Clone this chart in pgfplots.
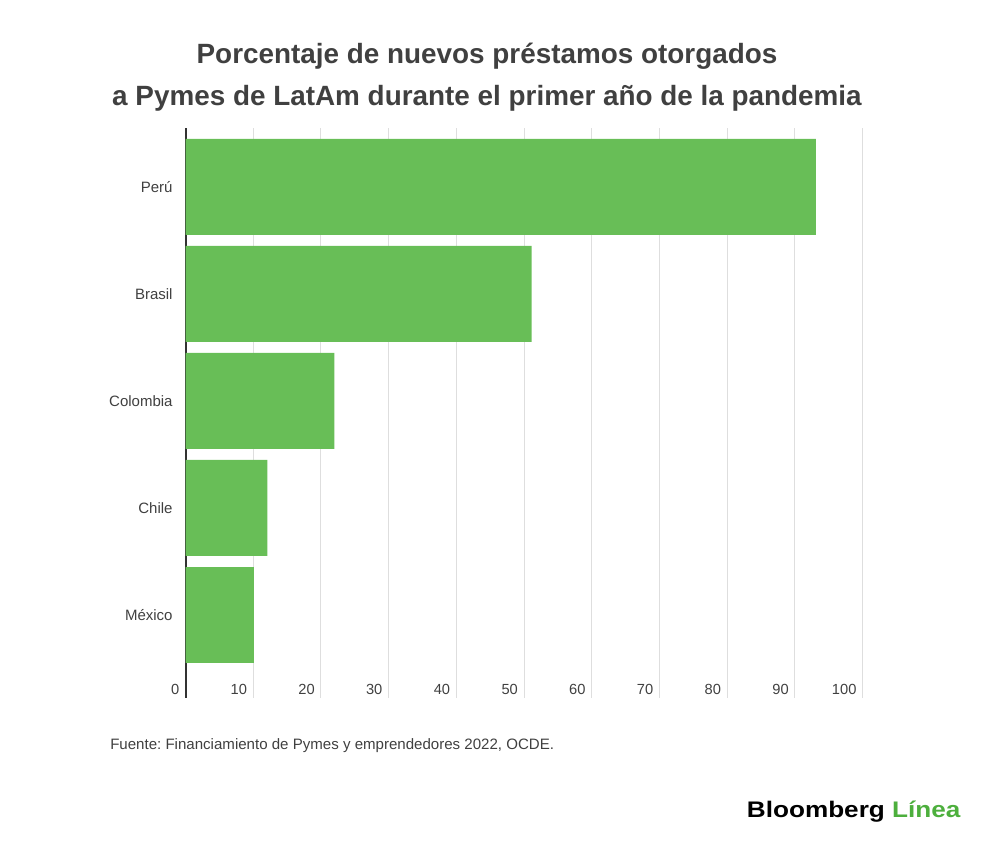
\documentclass[border=0pt]{standalone}
\usepackage{fontspec}
\setmainfont{Liberation Sans}
\usepackage{pgfplots}
\pgfplotsset{compat=1.18}
\definecolor{bargreen}{RGB}{104,190,87}
\definecolor{txt}{RGB}{64,64,64}
\definecolor{gridc}{RGB}{222,222,222}
\definecolor{axisc}{RGB}{50,50,50}
\definecolor{logogreen}{RGB}{77,175,61}
\frenchspacing
\begin{document}
\begin{tikzpicture}
\path[use as bounding box] (0,0) rectangle (750pt,632.25pt);
\node[anchor=base, inner sep=0pt, text=txt, font=\fontsize{20.9pt}{25pt}\selectfont\bfseries] at (365.25pt,584.5pt) {Porcentaje de nuevos préstamos otorgados};
\node[anchor=base, inner sep=0pt, text=txt, font=\fontsize{20.9pt}{25pt}\selectfont\bfseries] at (365.25pt,552.75pt) {a Pymes de LatAm durante el primer año de la pandemia};
\begin{axis}[
 at={(139.125pt,108.75pt)}, anchor=south west,
 scale only axis, width=507.9pt, height=427.3pt,
 xmin=0, xmax=100, ymin=-0.7757, ymax=4.5486,
 xbar, bar width=0.897,
 axis line style={draw=none},
 xtick={10,20,...,100},
 extra x ticks={0},
 extra x tick style={grid=major, grid style={draw=axisc, line width=1.5pt}},
 xmajorgrids, grid style={draw=gridc, line width=0.75pt},
 major tick length=0pt,
 ytick={0,1,2,3,4},
 yticklabels={México,Chile,Colombia,Brasil,Perú},
 yticklabel style={anchor=east, inner sep=0pt, xshift=-9.5pt, font=\fontsize{11.25pt}{13pt}\selectfont, text=txt},
 xticklabel style={anchor=east, inner sep=0pt, xshift=-4.5pt, yshift=6.75pt, font=\fontsize{11pt}{13pt}\selectfont, text=txt},
 /pgf/number format/assume math mode=true,
 clip=false,
]
\addplot[fill=bargreen, draw=none] coordinates {(10.1,0) (12.1,1) (22.0,2) (51.1,3) (93.1,4)};
\end{axis}
\node[anchor=base west, inner sep=0pt, text=txt, font=\fontsize{11.3pt}{13pt}\selectfont] at (82.5pt,69.75pt) {Fuente: Financiamiento de Pymes y emprendedores 2022, OCDE.};
\node[anchor=base west, inner sep=0pt] at (560pt,18.98pt) {\scalebox{1.16}[1]{\fontsize{16.9pt}{20pt}\selectfont\bfseries Bloomberg \textcolor{logogreen}{Línea}}};
\end{tikzpicture}
\end{document}
